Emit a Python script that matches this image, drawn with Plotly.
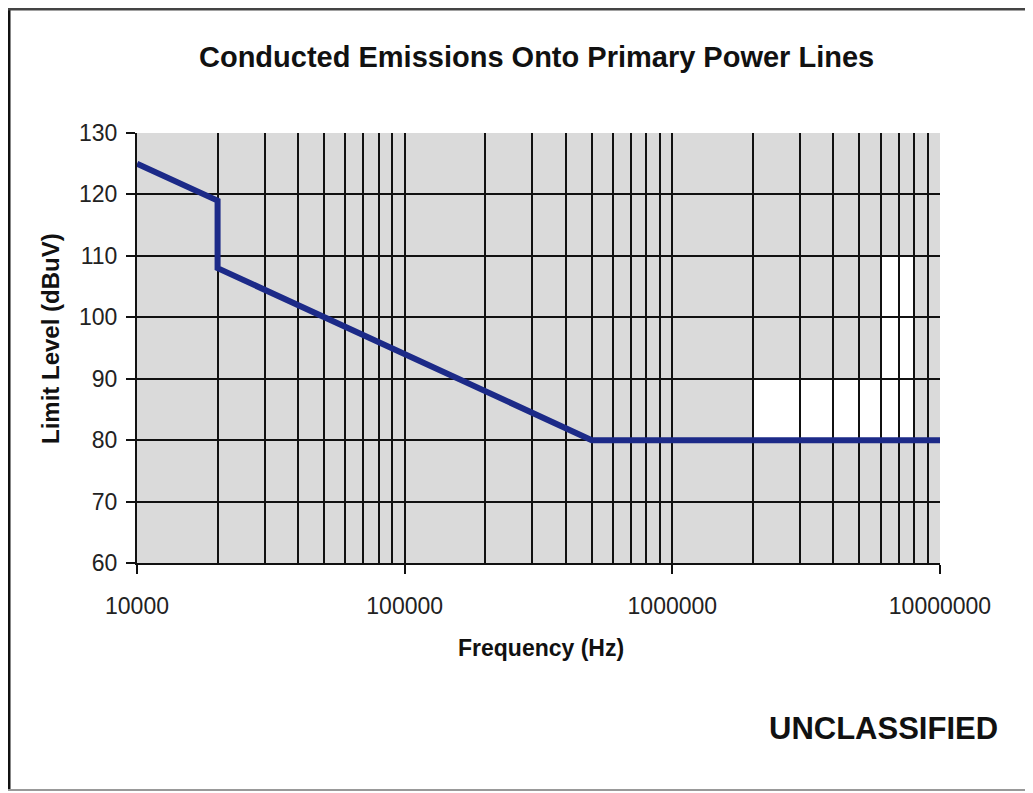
import plotly.graph_objects as go

# Limit curve
freq_hz = [10000, 20000, 20000, 500000, 10000000]
limit_dbuv = [125, 119, 108, 80, 80]

# Axis ticks
x_major = [10000, 100000, 1000000, 10000000]
x_major_text = ["10000", "100000", "1000000", "10000000"]
x_minor = [m * d for d in [10000, 100000, 1000000] for m in range(2, 10)]
y_ticks = [60, 70, 80, 90, 100, 110, 120, 130]

# White (scan) patches in the plot background: (x0, x1, y0, y1)
patches = [(2000000, 8000000, 80, 90), (6000000, 8000000, 90, 110)]

W, H = 1033, 793
OFF = 8  # page body margin
# plot area in page pixels
PX0, PX1, PY0, PY1 = 137, 940, 133, 563
L = PX0 - OFF
R = W - (PX1 - OFF)
T = PY0 - OFF
B = H - (PY1 - OFF)
pw, ph = PX1 - PX0, PY1 - PY0

def px(x):
    return (x - PX0) / pw

def py(y):
    return (PY1 - y) / ph

fig = go.Figure()
fig.add_trace(go.Scatter(
    x=freq_hz, y=limit_dbuv, mode="lines",
    line=dict(color="#1c2a88", width=6),
    showlegend=False, hoverinfo="skip",
))

shapes = []
for x0, x1, y0, y1 in patches:
    shapes.append(dict(type="rect", xref="x", yref="y", x0=x0, x1=x1, y0=y0, y1=y1,
                       fillcolor="white", line=dict(width=0), layer="below"))
# page frame
shapes.append(dict(type="line", xref="paper", yref="paper", x0=px(9), x1=px(9), y0=py(8), y1=py(791),
                   line=dict(color="#111111", width=3)))
shapes.append(dict(type="line", xref="paper", yref="paper", x0=px(8), x1=px(1045), y0=py(9), y1=py(9),
                   line=dict(color="#444444", width=3)))
shapes.append(dict(type="line", xref="paper", yref="paper", x0=px(8), x1=px(1045), y0=py(790), y1=py(790),
                   line=dict(color="#999999", width=2)))

font = "Liberation Sans, Arial, sans-serif"
def ann(text, x, y, size, angle=0):
    return dict(text=text, xref="paper", yref="paper", x=px(x), y=py(y),
                xanchor="center", yanchor="middle", textangle=angle, showarrow=False,
                font=dict(size=size, color="#111111", family=font))

annotations = [
    ann("<b>Conducted Emissions Onto Primary Power Lines</b>", 536, 57, 29),
    ann("<b>Limit Level (dBuV)</b>", 50, 339, 24, -90),
    ann("<b>Frequency (Hz)</b>", 541, 648, 23),
    ann("<b>UNCLASSIFIED</b>", 883, 728, 31),
]

fig.update_layout(
    width=W, height=H,
    margin=dict(l=L, r=R, t=T, b=B),
    paper_bgcolor="white", plot_bgcolor="#dadada",
    shapes=shapes, annotations=annotations,
    xaxis=dict(
        type="log", range=[4, 7],
        tickmode="array", tickvals=x_major, ticktext=x_major_text,
        ticks="outside", ticklen=9, tickwidth=2, tickcolor="#111111",
        showline=True, linecolor="#111111", linewidth=2,
        showgrid=True, gridcolor="#111111", gridwidth=2,
        minor=dict(tickmode="array", tickvals=x_minor, showgrid=True,
                   gridcolor="#111111", gridwidth=2, ticks=""),
        tickfont=dict(size=23, color="#222222", family=font),
        ticklabelstandoff=12,
        zeroline=False, mirror=False,
    ),
    yaxis=dict(
        range=[60, 130], tickmode="array", tickvals=y_ticks,
        ticks="outside", ticklen=9, tickwidth=2, tickcolor="#111111",
        showline=True, linecolor="#111111", linewidth=2,
        showgrid=True, gridcolor="#111111", gridwidth=2,
        tickfont=dict(size=23, color="#222222", family=font),
        ticklabelstandoff=4,
        zeroline=False,
    ),
)

fig.write_html("out.html")
